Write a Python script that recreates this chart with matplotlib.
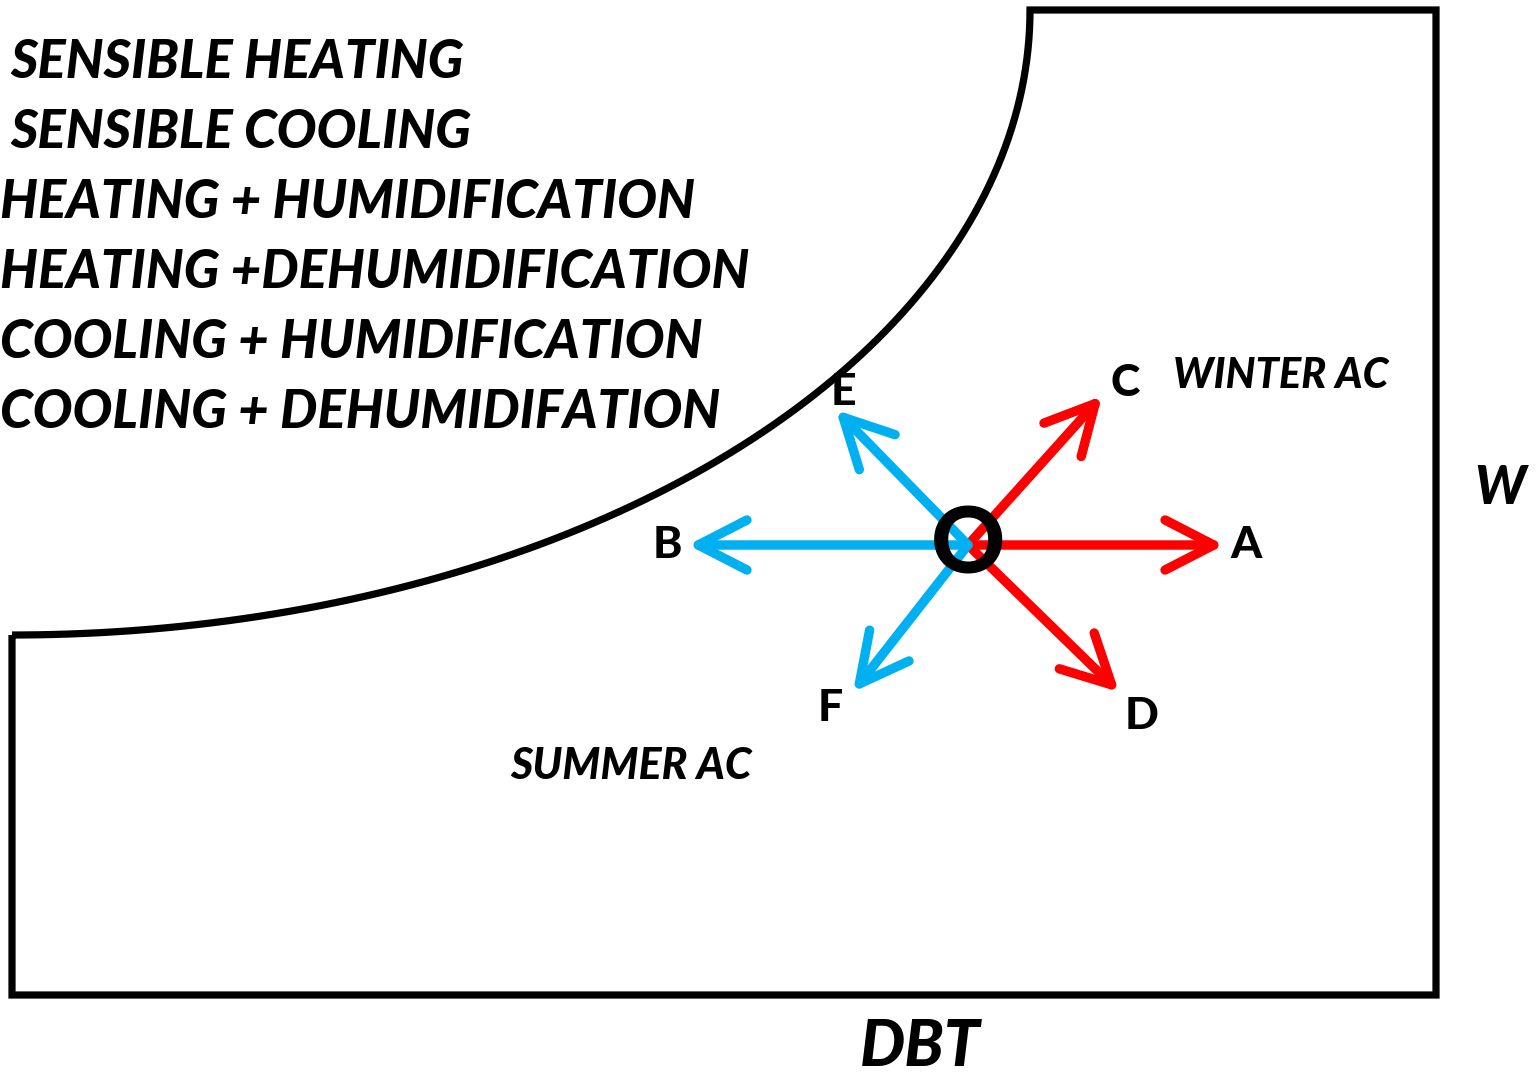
import numpy as np
import matplotlib.pyplot as plt
from matplotlib.patches import ArrowStyle

# process names listed top-left
processes = ["SENSIBLE HEATING", "SENSIBLE COOLING", "HEATING + HUMIDIFICATION",
             "HEATING +DEHUMIDIFICATION", "COOLING + HUMIDIFICATION",
             "COOLING + DEHUMIDIFATION"]
process_x = [10, 10, 0, 0, 0, 0]
process_y = [63, 133, 203, 273, 343, 413]

# state point O and the end points of each process line (pixel space)
origin = (968, 545)
ends = ["A", "B", "C", "D", "E", "F"]
end_x = [1224, 688, 1102, 1119, 836, 853]
end_y = [545, 545, 396, 692, 410, 692]
end_color = ["#FF0000", "#00B0F0", "#FF0000", "#FF0000", "#00B0F0", "#00B0F0"]
label_x = [1246, 667, 1125, 1142, 843, 830]
label_y = [545, 545, 383, 716, 392, 708]

# chart outline: saturation curve (quarter ellipse) + box
curve_cx, curve_cy = 12, 10
curve_a, curve_b = 1018, 625
box_right, box_bottom = 1436, 995

W, H = 1537, 1077
fig = plt.figure(figsize=(W / 100, H / 100), dpi=100)
ax = fig.add_axes([0, 0, 1, 1])
ax.set_xlim(0, W)
ax.set_ylim(H, 0)
ax.axis("off")

font = "Lato"
wt = "black"

t = np.linspace(0, np.pi / 2, 200)
cx = curve_cx + curve_a * np.cos(t)
cy = curve_cy + curve_b * np.sin(t)
ox = np.concatenate([[curve_cx], [curve_cx], [box_right], [box_right], cx])
oy = np.concatenate([[curve_cy + curve_b], [box_bottom], [box_bottom], [curve_cy], cy])
ax.plot(ox, oy, color="black", lw=5.2, solid_joinstyle="miter", solid_capstyle="butt")

head = ArrowStyle("->", head_length=35, head_width=18)
for x, y, c in zip(end_x, end_y, end_color):
    ax.annotate("", xy=(x, y), xytext=origin,
                arrowprops=dict(arrowstyle=head, color=c, lw=6.8, shrinkA=0, shrinkB=0,
                                mutation_scale=1, capstyle="round", joinstyle="round"))

for name, x, y in zip(ends, label_x, label_y):
    ax.text(x, y, name, fontsize=32, fontweight=wt, family=font,
            ha="center", va="center")
ax.text(origin[0], origin[1] + 3, "O", fontsize=66, fontweight=wt, family=font,
        ha="center", va="center")

for s, x, y in zip(processes, process_x, process_y):
    ax.text(x, y, s, fontsize=38, fontweight=wt, fontstyle="italic", family=font,
            ha="left", va="center")

ax.text(1173, 376, "WINTER AC", fontsize=30, fontweight=wt, fontstyle="italic",
        family=font, ha="left", va="center")
ax.text(510, 766, "SUMMER AC", fontsize=31, fontweight=wt, fontstyle="italic",
        family=font, ha="left", va="center")
ax.text(920, 1076, "DBT", fontsize=46, fontweight=wt, fontstyle="italic",
        family=font, ha="center", va="bottom")
ax.text(1500, 488, "W", fontsize=38, fontweight=wt, fontstyle="italic",
        family=font, ha="center", va="center")

fig.savefig("out.png", dpi=100)
